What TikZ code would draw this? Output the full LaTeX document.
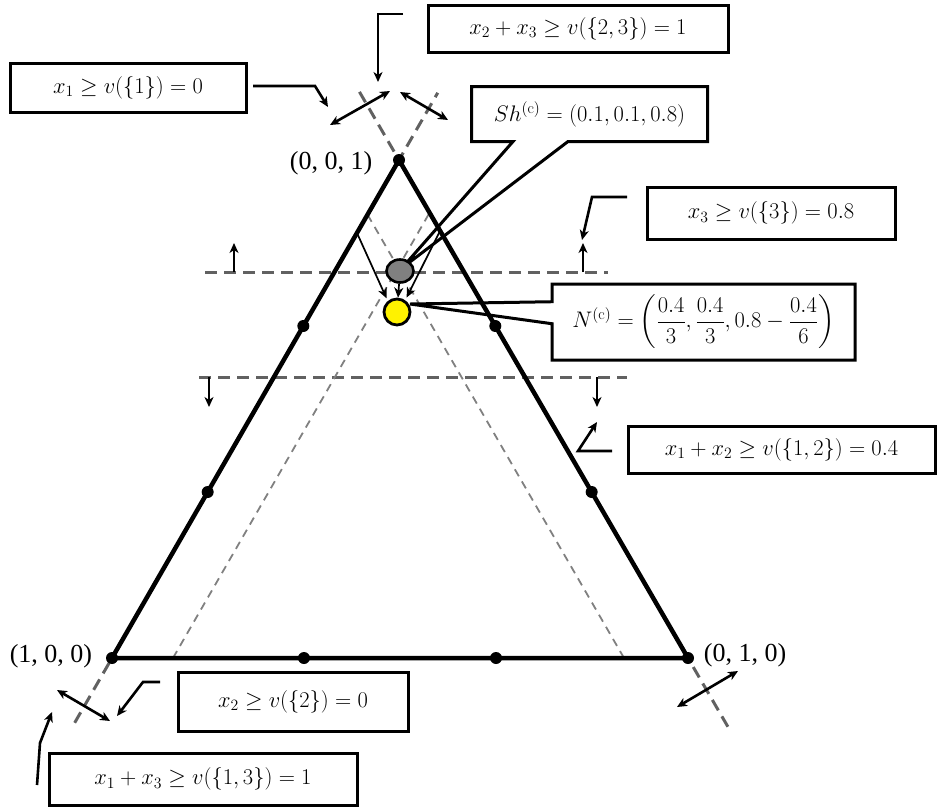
\RequirePackage{fix-cm}
\documentclass[tikz,border=0pt]{standalone}
\usepackage{amsmath,amssymb}
\usepackage{fontspec}
\newfontfamily\vtxfont{Liberation Serif}
\usetikzlibrary{shapes,shapes.callouts,arrows.meta,calc}

\tikzset{
    vtx/.style={circle, fill, inner sep=0pt, minimum size=12pt},
    cbox/.style={rectangle, draw, line width=3pt, inner sep=0pt, font=\fontsize{22.5}{27}\selectfont},
    vlabel/.style={font=\vtxfont\fontsize{26}{30}\selectfont},
    edgeline/.style={black!62, line width=3pt, dash pattern=on 12pt off 7pt},
    innerline/.style={black!50, line width=1.8pt, dash pattern=on 8pt off 6pt},
    conn/.style={line width=2.6pt},
    tick/.style={line width=1.7pt}
}

\begin{document}
\begin{tikzpicture}[x=1pt, y=-1pt, >={Stealth[length=10pt, width=9pt, inset=3pt]}]
    \useasboundingbox (0,0) rectangle (945,807);

    \coordinate (A) at (112,658);
    \coordinate (B) at (688,658);
    \coordinate (C) at (399,160);

    \draw[edgeline] ($(A)!-0.13!(C)$) -- ($(A)!1.135!(C)$);
    \draw[edgeline] ($(B)!-0.138!(C)$) -- ($(B)!1.137!(C)$);
    \draw[edgeline] (205,272) -- (608,272);
    \draw[edgeline] (199,377) -- (627,377);
    \draw[innerline] (173,658) -- (430,212);
    \draw[innerline] (624,658) -- (366,212);

    \draw[line width=4.5pt] (A) -- (B) -- (C) -- cycle;
    \foreach \n/\p in {vA/A, vB/B, vC/C} \node[vtx] (\n) at (\p) {};
    \foreach \n/\u/\v/\t in {e1/A/B/0.3333, e2/A/B/0.6667, e3/A/C/0.3333, e4/A/C/0.6667, e5/B/C/0.3333, e6/B/C/0.6667}
        \node[vtx] (\n) at ($(\u)!\t!(\v)$) {};

    \node[vlabel] (lA) at (51,656) {(1, 0, 0)};
    \node[vlabel] (lB) at (745,655) {(0, 1, 0)};
    \node[vlabel] (lC) at (331,163) {(0, 0, 1)};

    \node[cbox, minimum width=300, minimum height=47] (b23) at (578,28.5) {$x_2 + x_3 \geq v(\{2,3\}) = 1$};
    \node[cbox, minimum width=236, minimum height=49] (b1) at (128,87.5) {$x_1 \geq v(\{1\}) = 0$};
    \node[cbox, minimum width=248, minimum height=52] (b3) at (771,213) {$x_3 \geq v(\{3\}) = 0.8$};
    \node[cbox, minimum width=307, minimum height=47] (b12) at (781.5,449.5) {$x_1 + x_2 \geq v(\{1,2\}) = 0.4$};
    \node[cbox, minimum width=230, minimum height=59] (b2) at (293,701.5) {$x_2 \geq v(\{2\}) = 0$};
    \node[cbox, minimum width=308, minimum height=52] (b13) at (203,779) {$x_1 + x_3 \geq v(\{1,3\}) = 1$};

    \coordinate (pSh) at (402,268);
    \coordinate (pN) at (410,304);
    \node[cbox, draw=none, minimum width=233, minimum height=52] (shbox) at (589.5,114) {$Sh^{(\mathrm{c})} = (0.1, 0.1, 0.8)$};
    \draw[line width=3pt] (shbox.south west) -- ([xshift=-76.5pt]shbox.south) -- (pSh) -- ([xshift=-21.5pt]shbox.south)
        -- (shbox.south east) -- (shbox.north east) -- (shbox.north west) -- cycle;
    \node[cbox, rectangle callout, callout absolute pointer={(pN)}, callout pointer width=22,
        minimum width=303, minimum height=76] (nbox) at (703.5,322)
        {$N^{(\mathrm{c})} = \left(\dfrac{0.4}{3}, \dfrac{0.4}{3}, 0.8 - \dfrac{0.4}{6}\right)$};

    \node[ellipse, draw, fill=black!50, line width=2.6pt, inner sep=0pt, minimum width=27, minimum height=23] (shpt) at (400,271) {};
    \node[circle, draw, fill=yellow, line width=2.8pt, inner sep=0pt, minimum size=26] (npt) at (397,312) {};

    \foreach \n/\x/\y in {k1/403/14, k2/378/14, k3/378/82, m1/253/86, m2/315/86, m3/328/107,
        r1/627/197, r2/592/197, r3/582/240, s1/612/451, s2/578/451, s3/597/422,
        q1/160/682, q2/143/682, q3/117/716, w1/37/785, w2/40/743, w3/52/712,
        g1/330/125, g2/390/91, g3/400/92, g4/448/120, g5/57/690, g6/110/721, g7/677/707, g8/738/671,
        h1/234/272, h2/234/243, h3/583/272, h4/583/243, h5/209/377, h6/209/407, h7/597/377, h8/597/407,
        t1/357/233, t2/440/231}
        \coordinate (\n) at (\x,\y);

    \draw[->, conn] (k1) -- (k2) -- (k3);
    \draw[->, conn] (m1) -- (m2) -- (m3);
    \draw[->, conn] (r1) -- (r2) -- (r3);
    \draw[->, conn] (s1) -- (s2) -- (s3);
    \draw[->, conn] (q1) -- (q2) -- (q3);
    \draw[->, conn] (w1) -- (w2) -- (w3);
    \draw[<->, conn] (g1) -- (g2);
    \draw[<->, conn] (g3) -- (g4);
    \draw[<->, conn] (g5) -- (g6);
    \draw[<->, conn] (g7) -- (g8);
    \draw[->, tick] (h1) -- (h2);
    \draw[->, tick] (h3) -- (h4);
    \draw[->, tick] (h5) -- (h6);
    \draw[->, tick] (h7) -- (h8);
    \draw[->, tick, shorten >=3pt] (t1) -- (npt.130);
    \draw[->, tick, shorten >=3pt] (t2) -- (npt.55);
    \draw[->, tick] (shpt) -- (npt);
\end{tikzpicture}
\end{document}
